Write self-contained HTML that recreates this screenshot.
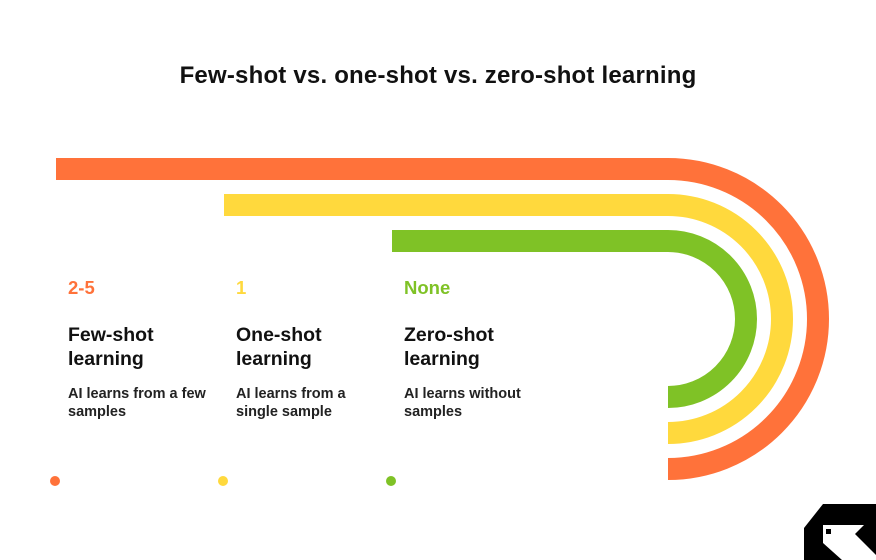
<!DOCTYPE html>
<html><head><style>
body{margin:0;width:876px;height:560px;background:#fff;position:relative;overflow:hidden;font-family:"Liberation Sans",Arial,sans-serif;}
.t{position:absolute;white-space:nowrap;}
.title{left:0;width:876px;text-align:center;top:62px;font-size:24px;font-weight:bold;color:#111;letter-spacing:0.2px;}
.num{font-size:18.5px;font-weight:bold;top:277px;}
.h{font-size:19.5px;font-weight:bold;color:#111;top:323px;line-height:24px;}
.b{font-size:14.5px;font-weight:bold;color:#222;top:385px;line-height:18px;}
</style></head><body>
<svg width="876" height="560" style="position:absolute;left:0;top:0">
<g fill="none" stroke-width="22">
<path d="M56 169 H668 A150 150 0 0 1 668 469" stroke="#FF723A"/>
<path d="M224 205 H668 A114 114 0 0 1 668 433" stroke="#FFD93D"/>
<path d="M392 241 H668 A78 78 0 0 1 668 397" stroke="#7FC226"/>
</g>
<circle cx="55" cy="481" r="5" fill="#FF723A"/>
<circle cx="223" cy="481" r="5" fill="#FFD93D"/>
<circle cx="391" cy="481" r="5" fill="#7FC226"/>
<path d="M823 504 H876 V560 H804 V528 Z" fill="#000"/>
<path d="M823 525 H864 L855 534 L876 555 V560 H842 L823 543 Z" fill="#fff"/>
<rect x="826" y="529" width="5" height="5" fill="#000"/>
</svg>
<div class="t title">Few-shot vs. one-shot vs. zero-shot learning</div>
<div class="t num" style="left:68px;color:#FF723A">2-5</div>
<div class="t num" style="left:236px;color:#FFD93D">1</div>
<div class="t num" style="left:404px;color:#7FC226">None</div>
<div class="t h" style="left:68px">Few-shot<br>learning</div>
<div class="t h" style="left:236px">One-shot<br>learning</div>
<div class="t h" style="left:404px">Zero-shot<br>learning</div>
<div class="t b" style="left:68px">AI learns from a few<br>samples</div>
<div class="t b" style="left:236px">AI learns from a<br>single sample</div>
<div class="t b" style="left:404px">AI learns without<br>samples</div>
</body></html>
